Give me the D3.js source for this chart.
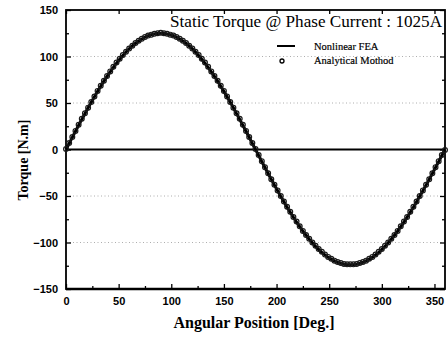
<!DOCTYPE html>
<html>
<head>
<meta charset="utf-8">
<script src="https://cdn.jsdelivr.net/npm/d3@7"></script>
<style>
  body { margin: 0; background: #fff; }
  svg { display: block; }
</style>
</head>
<body>
<div id="chart"></div>
<script>
// angle samples (every 3 deg)
const angles = d3.range(0, 361, 3);

// Nonlinear FEA torque [N.m]
const feaTorque = [
  0, 6.5, 13.1, 19.6, 26.0, 32.4, 38.6, 44.8, 50.8, 56.7,
  62.5, 68.1, 73.5, 78.7, 83.6, 88.4, 92.9, 97.1, 101.1, 104.8,
  108.3, 111.4, 114.2, 116.7, 118.9, 120.7, 122.3, 123.5, 124.3, 124.8,
  125.0, 124.8, 124.3, 123.5, 122.3, 120.7, 118.9, 116.7, 114.2, 111.4,
  108.3, 104.8, 101.1, 97.1, 92.9, 88.4, 83.6, 78.7, 73.5, 68.1,
  62.5, 56.7, 50.8, 44.8, 38.6, 32.4, 26.0, 19.6, 13.1, 6.5,
  0, -6.5, -13.0, -19.4, -25.8, -32.1, -38.3, -44.4, -50.4, -56.3,
  -62.0, -67.5, -72.9, -78.0, -83.0, -87.7, -92.1, -96.4, -100.3, -104.0,
  -107.4, -110.5, -113.3, -115.8, -117.9, -119.8, -121.3, -122.5, -123.3, -123.8,
  -124.0, -123.8, -123.3, -122.5, -121.3, -119.8, -117.9, -115.8, -113.3, -110.5,
  -107.4, -104.0, -100.3, -96.4, -92.1, -87.7, -83.0, -78.0, -72.9, -67.5,
  -62.0, -56.3, -50.4, -44.4, -38.3, -32.1, -25.8, -19.4, -13.0, -6.5, 0
];

// Analytical method torque [N.m]
const anaTorque = [
  0.5, 7.0, 13.5, 20.0, 26.5, 33.0, 39.0, 45.0, 51.0, 57.0,
  63.0, 68.5, 74.0, 79.0, 84.0, 89.0, 93.5, 97.5, 101.5, 105.0,
  108.5, 111.5, 114.5, 117.0, 119.0, 121.0, 122.5, 123.5, 124.5, 125.0,
  125.5, 125.0, 124.5, 123.5, 122.5, 121.0, 119.0, 117.0, 114.5, 111.5,
  108.5, 105.0, 101.5, 97.5, 93.5, 89.0, 84.0, 79.0, 74.0, 68.5,
  63.0, 57.0, 51.0, 45.0, 39.0, 33.0, 26.5, 20.0, 13.5, 7.0,
  0.5, -6.0, -12.5, -19.0, -25.5, -32.0, -38.0, -44.0, -50.0, -56.0,
  -61.5, -67.0, -72.5, -77.5, -82.5, -87.5, -92.0, -96.0, -100.0, -103.5,
  -107.0, -110.0, -113.0, -115.5, -117.5, -119.5, -121.0, -122.0, -123.0, -123.5,
  -123.5, -123.5, -123.0, -122.0, -121.0, -119.5, -117.5, -115.5, -113.0, -110.0,
  -107.0, -103.5, -100.0, -96.0, -92.0, -87.5, -82.5, -77.5, -72.5, -67.0,
  -61.5, -56.0, -50.0, -44.0, -38.0, -32.0, -25.5, -19.0, -12.5, -6.0, -0.5
];

const xTicks = [0, 50, 100, 150, 200, 250, 300, 350];
const yTicks = [-150, -100, -50, 0, 50, 100, 150];
const xMinor = [25, 75, 125, 175, 225, 275, 325];
const yMinor = [-125, -75, -25, 25, 75, 125];
const gridValues = [-100, -50, 50, 100];

const titleText = "Static Torque @ Phase Current : 1025A";
const legendNames = ["Nonlinear FEA", "Analytical Mothod"];
const xLabel = "Angular Position [Deg.]";
const yLabel = "Torque [N.m]";

const W = 448, H = 337;
const margin = { left: 66, right: 3, top: 10, bottom: 48 };
const innerW = W - margin.left - margin.right;
const innerH = H - margin.top - margin.bottom;

const svg = d3.select("#chart").append("svg")
  .attr("width", W)
  .attr("height", H);

const g = svg.append("g")
  .attr("transform", "translate(" + margin.left + "," + margin.top + ")");

const x = d3.scaleLinear().domain([0, 360]).range([0, innerW]);
const y = d3.scaleLinear().domain([-150, 150]).range([innerH, 0]);

const tickFont = "'Liberation Sans', Arial, sans-serif";
const serif = "'Liberation Serif', 'Times New Roman', serif";

// dotted grid lines (faint, like the scan)
g.selectAll(".grid")
  .data(gridValues)
  .enter()
  .append("line")
  .attr("x1", 0)
  .attr("x2", innerW)
  .attr("y1", d => y(d))
  .attr("y2", d => y(d))
  .attr("stroke", "#999")
  .attr("stroke-width", 0.8)
  .attr("stroke-dasharray", "1,2.5");

// zero line
g.append("line")
  .attr("x1", 0).attr("x2", innerW)
  .attr("y1", y(0)).attr("y2", y(0))
  .attr("stroke", "#000")
  .attr("stroke-width", 1.8);

// axes with inward ticks
const axLeft = g.append("g")
  .call(d3.axisLeft(y).tickValues(yTicks).tickSize(-5).tickPadding(8).tickFormat(d3.format("d")));
const axLeftMinor = g.append("g")
  .call(d3.axisLeft(y).tickValues(yMinor).tickSize(-3).tickFormat(""));
const axRight = g.append("g").attr("transform", "translate(" + innerW + ",0)")
  .call(d3.axisRight(y).tickValues(yTicks).tickSize(-5).tickFormat(""));
const axRightMinor = g.append("g").attr("transform", "translate(" + innerW + ",0)")
  .call(d3.axisRight(y).tickValues(yMinor).tickSize(-3).tickFormat(""));
const axBottom = g.append("g").attr("transform", "translate(0," + innerH + ")")
  .call(d3.axisBottom(x).tickValues(xTicks).tickSize(-5).tickPadding(8).tickFormat(d3.format("d")));
const axBottomMinor = g.append("g").attr("transform", "translate(0," + innerH + ")")
  .call(d3.axisBottom(x).tickValues(xMinor).tickSize(-3).tickFormat(""));
const axTop = g.append("g")
  .call(d3.axisTop(x).tickValues(xTicks).tickSize(-4).tickFormat(""));

[axLeft, axLeftMinor, axRight, axRightMinor, axBottom, axBottomMinor, axTop].forEach(a => {
  a.select(".domain").remove();
  a.selectAll("line").attr("stroke", "#000").attr("stroke-width", 1.3);
  a.selectAll("text")
    .attr("fill", "#000")
    .style("font-family", tickFont)
    .style("font-weight", "bold")
    .style("font-size", "11px");
});

// frame
g.append("rect")
  .attr("x", 0).attr("y", 0)
  .attr("width", innerW).attr("height", innerH)
  .attr("fill", "none")
  .attr("stroke", "#000")
  .attr("stroke-width", 1.8);
g.append("line")
  .attr("x1", 0).attr("x2", innerW)
  .attr("y1", innerH).attr("y2", innerH)
  .attr("stroke", "#000")
  .attr("stroke-width", 2.6);

// FEA line
const line = d3.line()
  .x((d, i) => x(angles[i]))
  .y(d => y(d))
  .curve(d3.curveMonotoneX);

g.append("path")
  .datum(feaTorque)
  .attr("fill", "none")
  .attr("stroke", "#000")
  .attr("stroke-width", 3)
  .attr("d", line);

// analytical circles
g.append("g").selectAll("circle")
  .data(anaTorque)
  .enter()
  .append("circle")
  .attr("cx", (d, i) => x(angles[i]))
  .attr("cy", d => y(d))
  .attr("r", 2.4)
  .attr("fill", "none")
  .attr("stroke", "#1a1a1a")
  .attr("stroke-width", 1.2);

// title
svg.append("text")
  .attr("x", 442)
  .attr("y", 27)
  .attr("text-anchor", "end")
  .attr("textLength", 272)
  .attr("lengthAdjust", "spacingAndGlyphs")
  .style("font-family", serif)
  .style("font-size", "16px")
  .attr("fill", "#000")
  .text(titleText);

// legend
svg.append("line")
  .attr("x1", 277).attr("x2", 295)
  .attr("y1", 46).attr("y2", 46)
  .attr("stroke", "#000")
  .attr("stroke-width", 2);
svg.append("circle")
  .attr("cx", 282).attr("cy", 61)
  .attr("r", 2)
  .attr("fill", "none")
  .attr("stroke", "#000")
  .attr("stroke-width", 1.3);
svg.selectAll(".legtext")
  .data(legendNames)
  .enter()
  .append("text")
  .attr("x", 314)
  .attr("y", (d, i) => 50 + i * 14)
  .style("font-family", serif)
  .style("font-size", "10.5px")
  .attr("fill", "#000")
  .attr("stroke", "#000")
  .attr("stroke-width", 0.2)
  .text(d => d);

// axis titles
svg.append("text")
  .attr("x", 254)
  .attr("y", 328)
  .attr("text-anchor", "middle")
  .style("font-family", serif)
  .style("font-weight", "bold")
  .style("font-size", "16px")
  .attr("fill", "#000")
  .text(xLabel);

svg.append("text")
  .attr("transform", "translate(28,160) rotate(-90)")
  .attr("text-anchor", "middle")
  .style("font-family", serif)
  .style("font-weight", "bold")
  .style("font-size", "14px")
  .attr("fill", "#000")
  .text(yLabel);
</script>
</body>
</html>
